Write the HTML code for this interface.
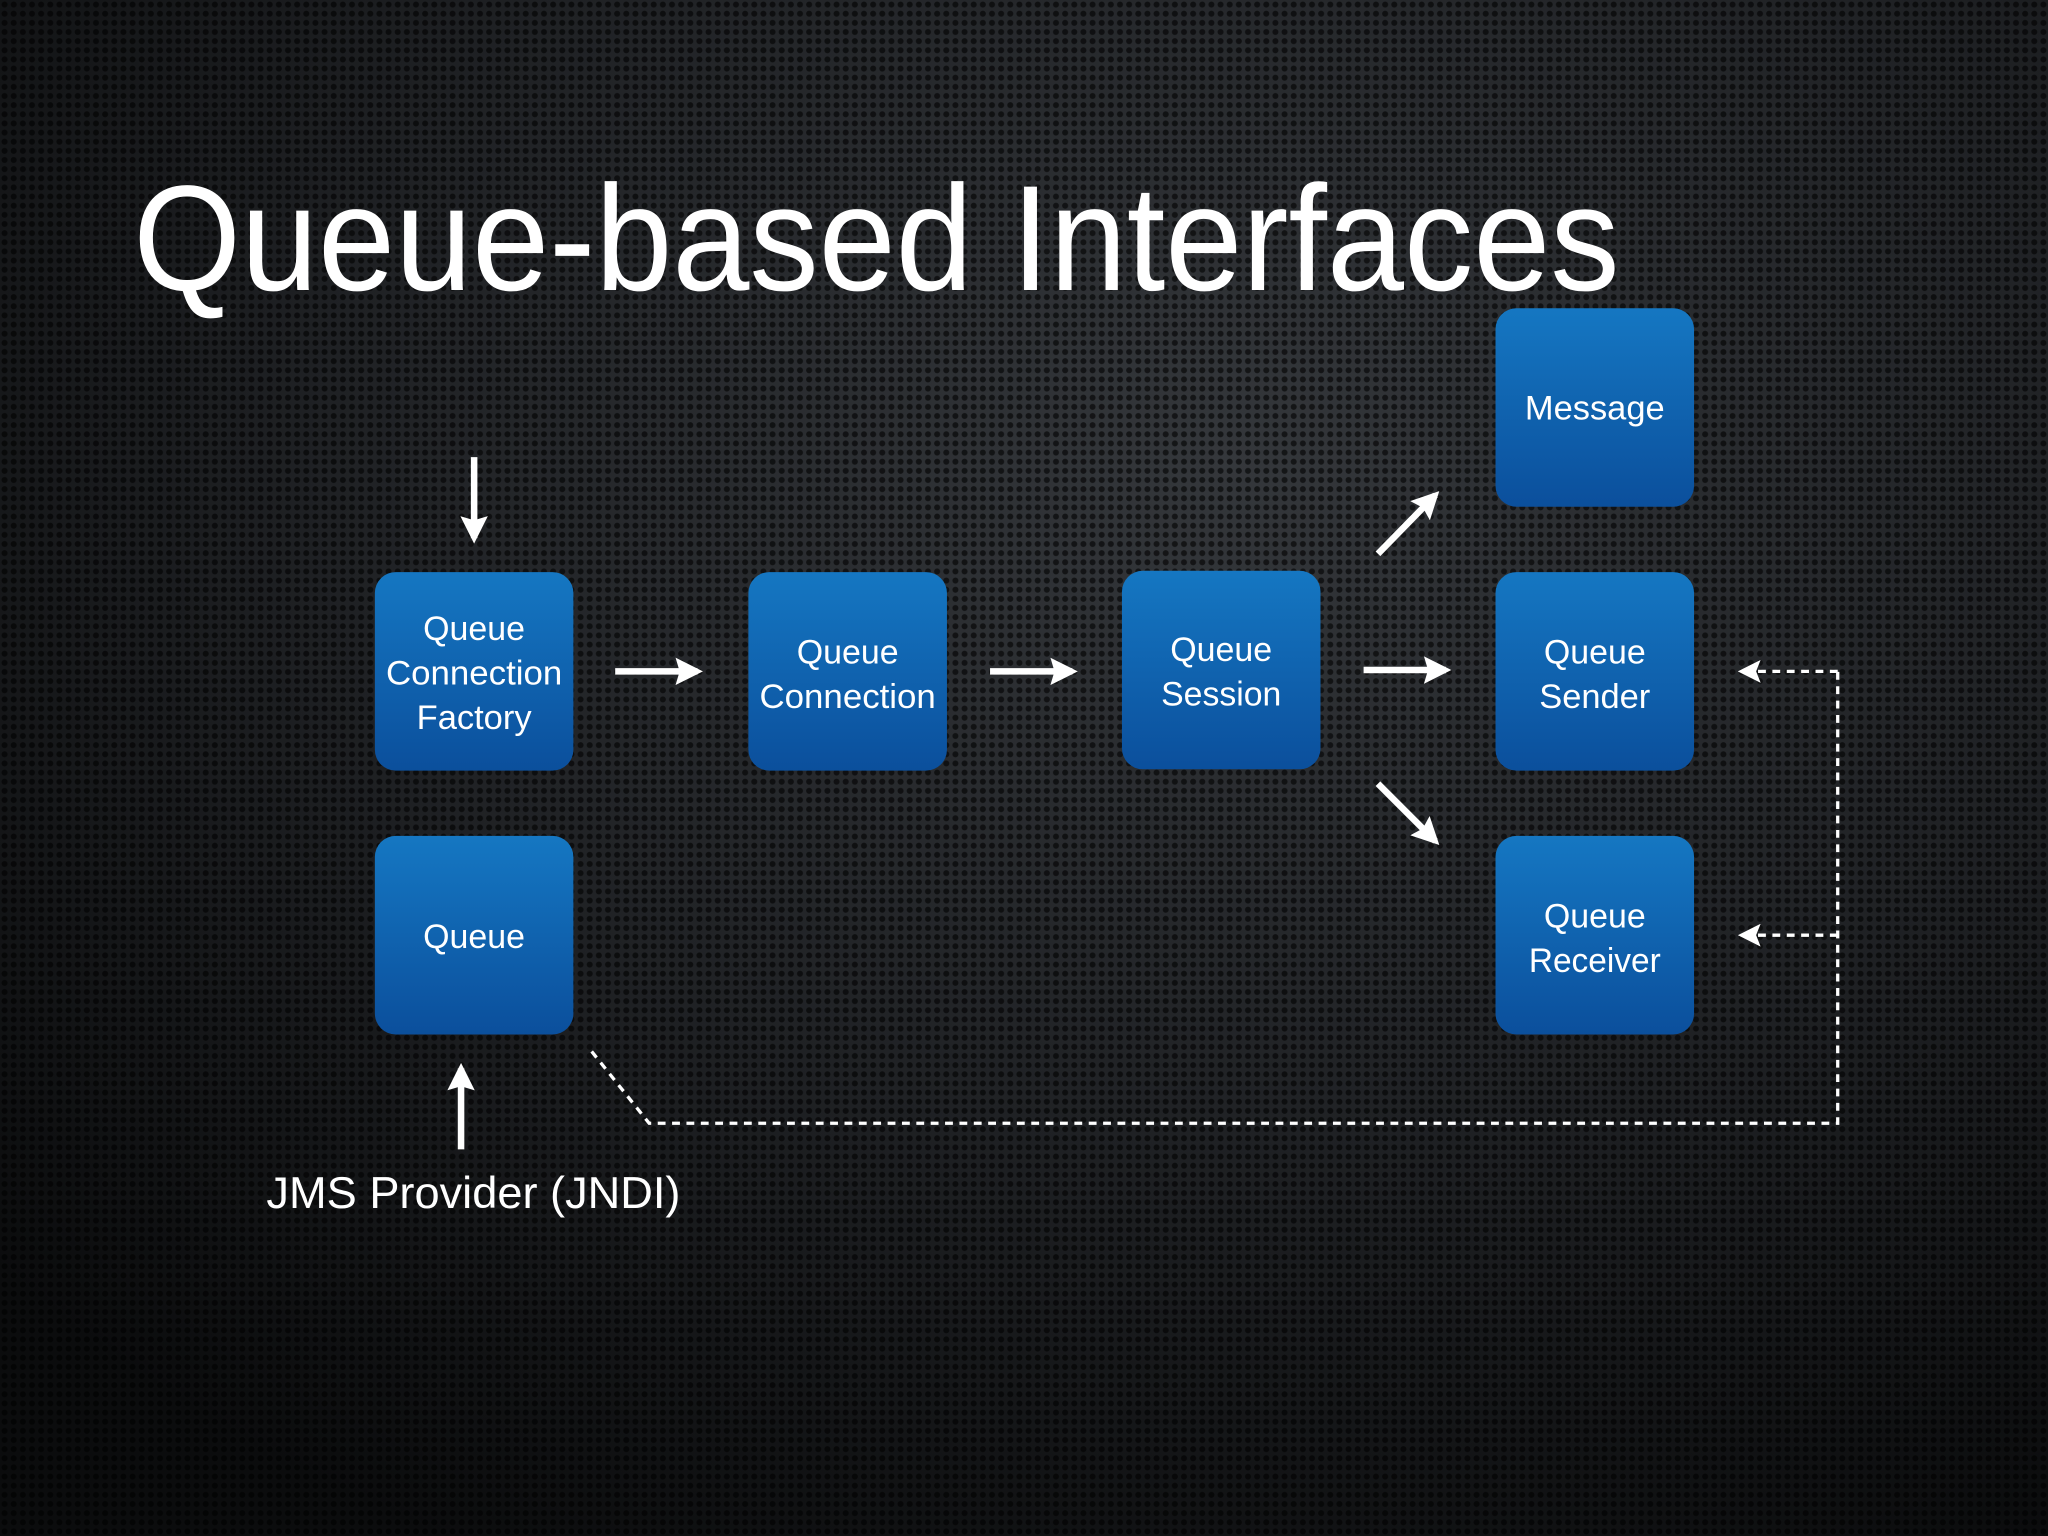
<!DOCTYPE html>
<html><head><meta charset="utf-8"><style>
html,body{margin:0;padding:0;background:#151719;}
svg{display:block;}
text{font-family:"Liberation Sans",sans-serif;fill:#fff;}
</style></head><body>
<svg width="2048" height="1536" viewBox="0 0 1568 1176" xmlns="http://www.w3.org/2000/svg">
<defs>
<radialGradient id="bg" cx="0.6" cy="0.3" r="0.8">
<stop offset="0" stop-color="#34373b"/>
<stop offset="0.55" stop-color="#1f2124"/>
<stop offset="1" stop-color="#0b0c0d"/>
</radialGradient>
<pattern id="dots" width="7" height="7" patternUnits="userSpaceOnUse">
<circle cx="3.5" cy="3.5" r="2.3" fill="#000" opacity="0.6"/>
</pattern>
<linearGradient id="box" x1="0" y1="0" x2="0" y2="1">
<stop offset="0" stop-color="#1577c2"/>
<stop offset="1" stop-color="#0b4f9c"/>
</linearGradient>
<marker id="ah" viewBox="0 0 10 10" refX="8" refY="5" markerWidth="4.2" markerHeight="4.2" orient="auto">
<path d="M0,0 L10,5 L0,10 L1.5,5 Z" fill="#fff"/>
</marker>
<marker id="ahs" viewBox="0 0 10 10" refX="8" refY="5" markerWidth="7" markerHeight="7" orient="auto">
<path d="M0,0 L10,5 L0,10 L2,5 Z" fill="#fff"/>
</marker>
</defs>
<rect width="1568" height="1176" fill="url(#bg)"/>
<rect width="1568" height="1176" fill="url(#dots)"/>

<text x="102" y="222" font-size="115" textLength="1138" lengthAdjust="spacingAndGlyphs">Queue-based Interfaces</text>

<g fill="url(#box)">
<rect x="287" y="438" width="152" height="152" rx="16"/>
<rect x="573" y="438" width="152" height="152" rx="16"/>
<rect x="859" y="437" width="152" height="152" rx="16"/>
<rect x="1145" y="236" width="152" height="152" rx="16"/>
<rect x="1145" y="438" width="152" height="152" rx="16"/>
<rect x="1145" y="640" width="152" height="152" rx="16"/>
<rect x="287" y="640" width="152" height="152" rx="16"/>
</g>

<g font-size="26" text-anchor="middle">
<text x="363" y="490" textLength="78" lengthAdjust="spacingAndGlyphs">Queue</text>
<text x="363" y="524" textLength="135" lengthAdjust="spacingAndGlyphs">Connection</text>
<text x="363" y="558" textLength="88" lengthAdjust="spacingAndGlyphs">Factory</text>
<text x="649" y="508" textLength="78" lengthAdjust="spacingAndGlyphs">Queue</text>
<text x="649" y="542" textLength="135" lengthAdjust="spacingAndGlyphs">Connection</text>
<text x="935" y="506" textLength="78" lengthAdjust="spacingAndGlyphs">Queue</text>
<text x="935" y="540" textLength="92" lengthAdjust="spacingAndGlyphs">Session</text>
<text x="1221" y="321" textLength="107" lengthAdjust="spacingAndGlyphs">Message</text>
<text x="1221" y="508" textLength="78" lengthAdjust="spacingAndGlyphs">Queue</text>
<text x="1221" y="542" textLength="85" lengthAdjust="spacingAndGlyphs">Sender</text>
<text x="1221" y="710" textLength="78" lengthAdjust="spacingAndGlyphs">Queue</text>
<text x="1221" y="744" textLength="101" lengthAdjust="spacingAndGlyphs">Receiver</text>
<text x="363" y="726" textLength="78" lengthAdjust="spacingAndGlyphs">Queue</text>
</g>
<text x="204" y="925" font-size="34" textLength="317" lengthAdjust="spacingAndGlyphs">JMS Provider (JNDI)</text>

<g stroke="#fff" stroke-width="5" fill="none" marker-end="url(#ah)">
<line x1="363" y1="350" x2="363" y2="412"/>
<line x1="471" y1="514" x2="534" y2="514"/>
<line x1="758" y1="514" x2="821" y2="514"/>
<line x1="1044" y1="513" x2="1107" y2="513"/>
<line x1="1055" y1="424" x2="1099" y2="379"/>
<line x1="1055" y1="600" x2="1099" y2="644"/>
<line x1="353" y1="880" x2="353" y2="818"/>
</g>

<g stroke="#fff" stroke-width="2.5" fill="none" stroke-dasharray="6,5">
<polyline points="453,805 497,860 1407,860 1407,514"/>
<line x1="1407" y1="514" x2="1334" y2="514" marker-end="url(#ahs)"/>
<line x1="1407" y1="716" x2="1334" y2="716" marker-end="url(#ahs)"/>
</g>
</svg>
</body></html>
